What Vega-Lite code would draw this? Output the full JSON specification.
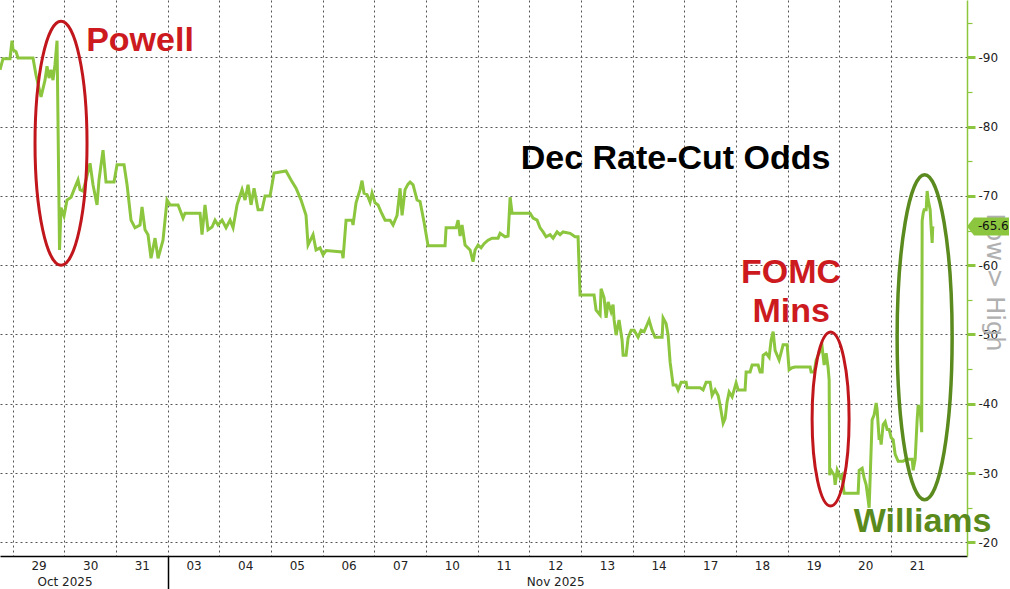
{
  "$schema": "https://vega.github.io/schema/vega-lite/v6.json",
  "width": 967,
  "height": 556,
  "autosize": {"type": "none"},
  "padding": {"left": 0, "top": 0, "right": 43, "bottom": 33},
  "background": "white",
  "config": {"view": {"stroke": null}},
  "datasets": {
    "odds": [
      {"t":-0.246,"odds":88.2},{"t":-0.188,"odds":89.8},{"t":-0.052,"odds":89.8},{"t":-0.014,"odds":92.4},{"t":0.006,"odds":91.1},{"t":0.064,"odds":90.8},{"t":0.103,"odds":89.9},{"t":0.393,"odds":89.9},{"t":0.451,"odds":87.4},{"t":0.548,"odds":84.3},{"t":0.625,"odds":86.7},{"t":0.664,"odds":88.7},{"t":0.703,"odds":87.0},{"t":0.741,"odds":88.2},{"t":0.780,"odds":86.7},{"t":0.819,"odds":89.0},{"t":0.858,"odds":92.4},{"t":0.906,"odds":62.2},{"t":0.935,"odds":68.3},{"t":0.993,"odds":67.1},{"t":1.051,"odds":69.4},{"t":1.129,"odds":69.8},{"t":1.187,"odds":70.9},{"t":1.264,"odds":72.3},{"t":1.303,"odds":70.9},{"t":1.361,"odds":70.7},{"t":1.419,"odds":72.3},{"t":1.497,"odds":74.7},{"t":1.554,"odds":71.6},{"t":1.632,"odds":68.7},{"t":1.670,"odds":72.3},{"t":1.748,"odds":76.6},{"t":1.806,"odds":72.0},{"t":1.961,"odds":72.0},{"t":2.019,"odds":74.5},{"t":2.155,"odds":74.5},{"t":2.213,"odds":71.6},{"t":2.290,"odds":66.5},{"t":2.367,"odds":65.4},{"t":2.464,"odds":65.8},{"t":2.503,"odds":68.4},{"t":2.561,"odds":65.1},{"t":2.619,"odds":64.4},{"t":2.677,"odds":61.0},{"t":2.755,"odds":63.9},{"t":2.813,"odds":61.0},{"t":2.909,"odds":63.6},{"t":2.987,"odds":69.4},{"t":3.045,"odds":68.7},{"t":3.200,"odds":68.7},{"t":3.297,"odds":66.8},{"t":3.335,"odds":67.5},{"t":3.626,"odds":67.5},{"t":3.664,"odds":64.4},{"t":3.722,"odds":68.7},{"t":3.780,"odds":65.1},{"t":3.858,"odds":65.5},{"t":3.916,"odds":66.5},{"t":3.974,"odds":65.8},{"t":4.052,"odds":66.5},{"t":4.129,"odds":65.4},{"t":4.207,"odds":66.5},{"t":4.265,"odds":65.4},{"t":4.342,"odds":68.7},{"t":4.439,"odds":70.9},{"t":4.497,"odds":69.4},{"t":4.555,"odds":71.6},{"t":4.613,"odds":68.7},{"t":4.671,"odds":71.1},{"t":4.749,"odds":68.0},{"t":4.826,"odds":68.0},{"t":4.884,"odds":70.0},{"t":4.981,"odds":70.0},{"t":5.058,"odds":73.3},{"t":5.290,"odds":73.6},{"t":5.387,"odds":72.3},{"t":5.484,"odds":71.1},{"t":5.581,"odds":69.4},{"t":5.677,"odds":67.2},{"t":5.716,"odds":62.9},{"t":5.813,"odds":64.4},{"t":5.871,"odds":62.2},{"t":5.949,"odds":62.5},{"t":6.007,"odds":61.5},{"t":6.065,"odds":62.1},{"t":6.375,"odds":61.9},{"t":6.394,"odds":61.0},{"t":6.452,"odds":66.5},{"t":6.568,"odds":66.5},{"t":6.587,"odds":65.8},{"t":6.645,"odds":69.0},{"t":6.723,"odds":70.9},{"t":6.761,"odds":72.2},{"t":6.800,"odds":70.4},{"t":6.858,"odds":70.2},{"t":6.916,"odds":69.1},{"t":6.955,"odds":70.4},{"t":7.013,"odds":69.0},{"t":7.071,"odds":68.7},{"t":7.129,"odds":67.7},{"t":7.207,"odds":66.5},{"t":7.304,"odds":66.5},{"t":7.362,"odds":65.8},{"t":7.439,"odds":67.2},{"t":7.497,"odds":71.1},{"t":7.536,"odds":67.2},{"t":7.594,"odds":70.9},{"t":7.652,"odds":71.7},{"t":7.691,"odds":72.0},{"t":7.749,"odds":71.6},{"t":7.826,"odds":69.4},{"t":7.884,"odds":69.2},{"t":7.962,"odds":66.2},{"t":8.039,"odds":62.8},{"t":8.368,"odds":62.8},{"t":8.388,"odds":65.4},{"t":8.581,"odds":65.4},{"t":8.620,"odds":66.5},{"t":8.659,"odds":64.2},{"t":8.697,"odds":65.8},{"t":8.755,"odds":62.9},{"t":8.852,"odds":62.2},{"t":8.910,"odds":60.5},{"t":8.949,"odds":62.2},{"t":9.007,"odds":62.9},{"t":9.065,"odds":62.5},{"t":9.123,"odds":63.1},{"t":9.200,"odds":63.6},{"t":9.278,"odds":63.9},{"t":9.394,"odds":63.9},{"t":9.433,"odds":64.6},{"t":9.530,"odds":64.1},{"t":9.588,"odds":64.2},{"t":9.627,"odds":69.8},{"t":9.665,"odds":67.5},{"t":10.014,"odds":67.5},{"t":10.072,"odds":66.8},{"t":10.149,"odds":66.5},{"t":10.207,"odds":65.4},{"t":10.265,"odds":64.8},{"t":10.323,"odds":64.1},{"t":10.401,"odds":64.4},{"t":10.459,"odds":63.9},{"t":10.536,"odds":64.8},{"t":10.594,"odds":64.4},{"t":10.652,"odds":64.8},{"t":10.788,"odds":64.6},{"t":10.884,"odds":64.1},{"t":10.942,"odds":64.1},{"t":10.981,"odds":55.7},{"t":11.252,"odds":55.7},{"t":11.291,"odds":53.5},{"t":11.369,"odds":52.8},{"t":11.388,"odds":56.6},{"t":11.446,"odds":55.3},{"t":11.485,"odds":52.4},{"t":11.524,"odds":54.7},{"t":11.582,"odds":53.3},{"t":11.620,"odds":54.3},{"t":11.640,"odds":52.1},{"t":11.678,"odds":49.9},{"t":11.736,"odds":52.1},{"t":11.794,"odds":49.2},{"t":11.814,"odds":47.0},{"t":11.872,"odds":47.0},{"t":11.911,"odds":49.5},{"t":11.969,"odds":50.6},{"t":12.027,"odds":50.6},{"t":12.104,"odds":49.6},{"t":12.162,"odds":50.6},{"t":12.220,"odds":50.4},{"t":12.278,"odds":51.4},{"t":12.317,"odds":52.1},{"t":12.375,"odds":50.6},{"t":12.433,"odds":49.6},{"t":12.569,"odds":49.6},{"t":12.588,"odds":52.4},{"t":12.646,"odds":51.6},{"t":12.685,"odds":49.9},{"t":12.724,"odds":46.0},{"t":12.782,"odds":42.7},{"t":12.840,"odds":42.7},{"t":12.879,"odds":42.0},{"t":12.937,"odds":43.1},{"t":13.034,"odds":43.1},{"t":13.053,"odds":42.3},{"t":13.305,"odds":42.3},{"t":13.363,"odds":42.0},{"t":13.421,"odds":43.1},{"t":13.498,"odds":43.1},{"t":13.537,"odds":41.2},{"t":13.595,"odds":42.0},{"t":13.653,"odds":41.2},{"t":13.692,"odds":39.8},{"t":13.750,"odds":37.2},{"t":13.789,"odds":37.9},{"t":13.827,"odds":40.3},{"t":13.866,"odds":41.7},{"t":13.924,"odds":41.0},{"t":13.963,"odds":42.0},{"t":14.001,"odds":43.0},{"t":14.040,"odds":42.0},{"t":14.175,"odds":42.0},{"t":14.195,"odds":44.6},{"t":14.272,"odds":44.6},{"t":14.311,"odds":45.6},{"t":14.427,"odds":45.6},{"t":14.466,"odds":44.6},{"t":14.505,"odds":44.6},{"t":14.524,"odds":47.0},{"t":14.582,"odds":47.3},{"t":14.640,"odds":46.7},{"t":14.679,"odds":49.2},{"t":14.718,"odds":50.4},{"t":14.756,"odds":47.7},{"t":14.795,"odds":47.0},{"t":14.834,"odds":46.3},{"t":14.873,"odds":47.4},{"t":14.911,"odds":48.5},{"t":14.989,"odds":48.5},{"t":15.027,"odds":44.9},{"t":15.085,"odds":45.2},{"t":15.143,"odds":45.3},{"t":15.434,"odds":45.3},{"t":15.453,"odds":44.6},{"t":15.511,"odds":44.6},{"t":15.550,"odds":46.3},{"t":15.589,"odds":47.0},{"t":15.666,"odds":48.2},{"t":15.705,"odds":45.6},{"t":15.744,"odds":47.3},{"t":15.782,"odds":45.2},{"t":15.802,"odds":43.4},{"t":15.812,"odds":29.7},{"t":15.841,"odds":30.4},{"t":15.899,"odds":29.7},{"t":15.918,"odds":28.3},{"t":15.957,"odds":30.4},{"t":16.015,"odds":29.3},{"t":16.054,"odds":29.7},{"t":16.073,"odds":28.3},{"t":16.092,"odds":27.1},{"t":16.363,"odds":27.1},{"t":16.383,"odds":30.4},{"t":16.441,"odds":30.7},{"t":16.479,"odds":29.3},{"t":16.518,"odds":28.3},{"t":16.557,"odds":26.1},{"t":16.576,"odds":25.0},{"t":16.634,"odds":37.7},{"t":16.673,"odds":38.4},{"t":16.712,"odds":40.1},{"t":16.731,"odds":39.1},{"t":16.770,"odds":34.8},{"t":16.789,"odds":35.5},{"t":16.808,"odds":34.1},{"t":16.847,"odds":37.0},{"t":16.886,"odds":37.4},{"t":16.924,"odds":36.3},{"t":16.963,"odds":36.3},{"t":17.002,"odds":35.1},{"t":17.041,"odds":34.8},{"t":17.080,"odds":32.7},{"t":17.138,"odds":31.7},{"t":17.234,"odds":31.7},{"t":17.292,"odds":32.0},{"t":17.409,"odds":32.0},{"t":17.428,"odds":30.4},{"t":17.467,"odds":32.0},{"t":17.505,"odds":37.7},{"t":17.525,"odds":39.8},{"t":17.564,"odds":39.1},{"t":17.593,"odds":35.9},{"t":17.602,"odds":66.4},{"t":17.622,"odds":67.5},{"t":17.641,"odds":68.0},{"t":17.680,"odds":68.0},{"t":17.699,"odds":70.7},{"t":17.719,"odds":69.4},{"t":17.738,"odds":68.7},{"t":17.757,"odds":68.0},{"t":17.776,"odds":65.4},{"t":17.796,"odds":63.2},{"t":17.806,"odds":65.4},{"t":17.815,"odds":65.6}
    ]
  },
  "layer": [
    {
      "data": {"name": "odds"},
      "mark": {"type": "line", "color": "#8cc63e", "strokeWidth": 3, "strokeJoin": "miter"},
      "encoding": {
        "x": {
          "field": "t", "type": "quantitative",
          "scale": {"domain": [-0.246, 18.47], "nice": false, "zero": false},
          "axis": {
            "orient": "bottom", "title": null,
            "values": [0,1,2,3,4,5,6,7,8,9,10,11,12,13,14,15,16,17],
            "grid": true, "gridColor": "#555555", "gridDash": [2, 3], "gridWidth": 1,
            "labels": false,
            "ticks": true, "tickSize": 33, "tickColor": "#000000", "tickWidth": 1.5,
            "tickOpacity": {"condition": {"test": "datum.value === 3", "value": 1}, "value": 0},
            "domain": true, "domainColor": "#000000", "domainWidth": 1.5
          }
        },
        "y": {
          "field": "odds", "type": "quantitative",
          "scale": {"domain": [18.03, 98.27], "nice": false, "zero": false},
          "axis": {
            "orient": "right",
            "values": [20,25,30,35,40,45,50,55,60,65,70,75,80,85,90,95],
            "grid": true, "gridColor": "#555555", "gridDash": [2, 3], "gridWidth": 1,
            "gridOpacity": {"condition": {"test": "datum.value % 10 === 0", "value": 1}, "value": 0},
            "domain": true, "domainColor": "#8cc63e", "domainWidth": 1.5,
            "tickColor": "#8cc63e",
            "tickSize": {"condition": {"test": "datum.value % 10 === 0", "value": 8}, "value": 5},
            "tickWidth": {"condition": {"test": "datum.value % 10 === 0", "value": 3}, "value": 1.2},
            "labelExpr": "datum.value % 10 === 0 ? '-' + datum.label : ''",
            "labelFont": "DejaVu Sans", "labelFontSize": 12, "labelColor": "#222222",
            "labelPadding": 3, "labelOverlap": false,
            "title": "Low > High", "titleAngle": 90, "titleX": 26, "titleY": 282,
            "titleAlign": "center", "titleBaseline": "middle",
            "titleColor": "#b0b0b0", "titleFont": "DejaVu Sans", "titleFontSize": 24, "titleFontWeight": "normal"
          }
        }
      }
    },
    {
      "data": {"values": [{"t": 0.935, "odds": 77.6}]},
      "mark": {"type": "point", "shape": "M -26 0 A 26 122 0 1 0 26 0 A 26 122 0 1 0 -26 0 Z", "size": 4, "filled": false, "stroke": "#c0161c", "strokeWidth": 3, "opacity": 1},
      "encoding": {
        "x": {"field": "t", "type": "quantitative",
          "axis": {
            "orient": "bottom", "title": null,
            "values": [0.5,1.5,2.5,3.5,4.5,5.5,6.5,7.5,8.5,9.5,10.5,11.5,12.5,13.5,14.5,15.5,16.5,17.5],
            "grid": false, "ticks": false, "domain": false,
            "labelExpr": "['29','30','31','03','04','05','06','07','10','11','12','13','14','17','18','19','20','21'][floor(datum.value)]",
            "labelFont": "DejaVu Sans", "labelFontSize": 12, "labelColor": "#222222",
            "labelPadding": 4, "labelOverlap": false, "labelFlush": false
          }
        },
        "y": {"field": "odds", "type": "quantitative", "axis": null}
      }
    },
    {
      "data": {"values": [{"t": 15.83, "odds": 37.8}]},
      "mark": {"type": "point", "shape": "M -18.5 0 A 18.5 87 0 1 0 18.5 0 A 18.5 87 0 1 0 -18.5 0 Z", "size": 4, "filled": false, "stroke": "#c0161c", "strokeWidth": 3, "opacity": 1},
      "encoding": {
        "x": {"field": "t", "type": "quantitative",
          "axis": {
            "orient": "bottom", "title": null,
            "values": [1.003, 10.5],
            "grid": false, "ticks": false, "domain": false,
            "labelExpr": "datum.value < 5 ? 'Oct 2025' : 'Nov 2025'",
            "labelFont": "DejaVu Sans", "labelFontSize": 12, "labelColor": "#222222",
            "labelPadding": 20, "labelOverlap": false, "labelFlush": false
          }
        },
        "y": {"field": "odds", "type": "quantitative", "axis": null}
      }
    },
    {
      "data": {"values": [{"t": 17.65, "odds": 49.6}]},
      "mark": {"type": "point", "shape": "M -27.5 0 A 27.5 162.5 0 1 0 27.5 0 A 27.5 162.5 0 1 0 -27.5 0 Z", "size": 4, "filled": false, "stroke": "#5b8a1f", "strokeWidth": 3.5, "opacity": 1},
      "encoding": {
        "x": {"field": "t", "type": "quantitative", "axis": null},
        "y": {"field": "odds", "type": "quantitative", "axis": null}
      }
    },
    {
      "data": {"values": [
        {"t": 2.464, "odds": 92.4, "label": "Powell"},
        {"t": 15.066, "odds": 58.8, "label": "FOMC"},
        {"t": 15.066, "odds": 53.2, "label": "Mins"}
      ]},
      "mark": {"type": "text", "font": "Liberation Sans", "fontWeight": "bold", "fontSize": 34, "color": "#cc1a1f", "align": "center", "baseline": "middle"},
      "encoding": {
        "x": {"field": "t", "type": "quantitative", "axis": null},
        "y": {"field": "odds", "type": "quantitative", "axis": null},
        "text": {"field": "label"}
      }
    },
    {
      "data": {"values": [{"t": 12.83, "odds": 75.3, "label": "Dec Rate-Cut Odds"}]},
      "mark": {"type": "text", "font": "Liberation Sans", "fontWeight": "bold", "fontSize": 34, "color": "#000000", "align": "center", "baseline": "middle"},
      "encoding": {
        "x": {"field": "t", "type": "quantitative", "axis": null},
        "y": {"field": "odds", "type": "quantitative", "axis": null},
        "text": {"field": "label"}
      }
    },
    {
      "data": {"values": [{"t": 17.611, "odds": 22.9, "label": "Williams"}]},
      "mark": {"type": "text", "font": "Liberation Sans", "fontWeight": "bold", "fontSize": 34, "color": "#5a8a1c", "align": "center", "baseline": "middle"},
      "encoding": {
        "x": {"field": "t", "type": "quantitative", "axis": null},
        "y": {"field": "odds", "type": "quantitative", "axis": null},
        "text": {"field": "label"}
      }
    },
    {
      "data": {"name": "odds"},
      "transform": [
        {"joinaggregate": [{"op": "max", "field": "t", "as": "tmax"}]},
        {"filter": "datum.t === datum.tmax"}
      ],
      "layer": [
        {
          "mark": {"type": "point", "shape": "M 0 0 L 7 -9 L 42 -9 L 42 9 L 7 9 Z", "size": 4, "filled": true, "fill": "#8cc63e", "strokeWidth": 0, "opacity": 1},
          "encoding": {
            "x": {"datum": 18.47, "type": "quantitative", "axis": null},
            "y": {"field": "odds", "type": "quantitative", "axis": null}
          }
        },
        {
          "mark": {"type": "text", "text": "-", "font": "DejaVu Sans", "fontSize": 12, "color": "#111111", "align": "left", "baseline": "middle", "dx": 11},
          "encoding": {
            "x": {"datum": 18.47, "type": "quantitative", "axis": null},
            "y": {"field": "odds", "type": "quantitative", "axis": null}
          }
        },
        {
          "mark": {"type": "text", "font": "DejaVu Sans", "fontSize": 12, "color": "#111111", "align": "left", "baseline": "middle", "dx": 15},
          "encoding": {
            "x": {"datum": 18.47, "type": "quantitative", "axis": null},
            "y": {"field": "odds", "type": "quantitative", "axis": null},
            "text": {"field": "odds", "type": "quantitative", "format": ".1f"}
          }
        }
      ]
    }
  ],
  "resolve": {"axis": {"x": "independent", "y": "independent"}}
}
